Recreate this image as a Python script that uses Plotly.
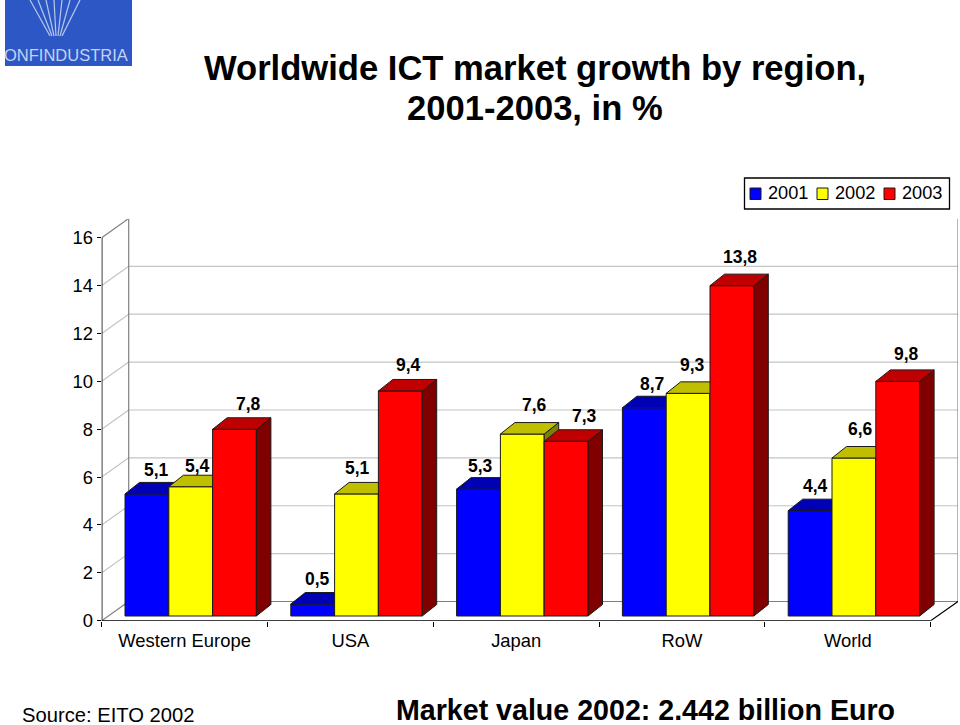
import plotly.graph_objects as go

categories = ["Western Europe", "USA", "Japan", "RoW", "World"]
years = ["2001", "2002", "2003"]
values_2001 = [5.1, 0.5, 5.3, 8.7, 4.4]
values_2002 = [5.4, 5.1, 7.6, 9.3, 6.6]
values_2003 = [7.8, 9.4, 7.3, 13.8, 9.8]
y_ticks = [0, 2, 4, 6, 8, 10, 12, 14, 16]

# ---- styling / geometry (pixels converted to axis units) ----
W, H = 960, 725
PX_L, PX_R, PX_T, PX_B = 101.7, 958.0, 219.0, 620.7
PX_CAT, PX_UNIT = 165.8, 23.94
XMAX = (PX_R - PX_L) / PX_CAT
YMAX = (PX_B - PX_T) / PX_UNIT
WALL_DX, WALL_DY = 27.0 / PX_CAT, 19.2 / PX_UNIT
BAR_DX, BAR_DY = 14.5 / PX_CAT, 11.5 / PX_UNIT
BAR_BASE = 4.7 / PX_UNIT
BAR_START, BAR_W = 23.3 / PX_CAT, 43.8 / PX_CAT
FRONT = ["#0000FF", "#FFFF00", "#FF0000"]
TOP = ["#0000B4", "#BFBF00", "#C00000"]
SIDE = ["#000080", "#808000", "#800000"]
EDGE = "#1a1a1a"
# label placement relative to bar-centre / bar-top (px)
NUDGE = [
    [(10, 24), (7, 21), (14, 25)],
    [(5, 25), (1, 26), (8, 26)],
    [(2, 23), (12, 29), (18, 25)],
    [(8, 24), (4, 28), (8, 29)],
    [(5, 25), (7, 29), (9, 27)],
]
series = [values_2001, values_2002, values_2003]

fig = go.Figure()

for s, vals in enumerate(series):
    xa = "x" if s == 0 else f"x{s+1}"
    ya = "y" if s == 0 else f"y{s+1}"
    left = [i + BAR_START + s * BAR_W for i in range(len(vals))]
    centre = [l + BAR_W / 2 for l in left]
    fig.add_trace(go.Bar(
        x=centre, y=vals, base=BAR_BASE, width=BAR_W, name=years[s],
        marker=dict(color=FRONT[s], line=dict(color=EDGE, width=1)),
        xaxis=xa, yaxis=ya, hoverinfo="skip", showlegend=False))
    tx, ty, sx, sy = [], [], [], []
    for l, v in zip(left, vals):
        r = l + BAR_W
        t = v + BAR_BASE
        tx += [l, r, r + BAR_DX, l + BAR_DX, l, None]
        ty += [t, t, t + BAR_DY, t + BAR_DY, t, None]
        sx += [r, r + BAR_DX, r + BAR_DX, r, r, None]
        sy += [BAR_BASE, BAR_BASE + BAR_DY, t + BAR_DY, t, BAR_BASE, None]
    for fx, fy, col in ((sx, sy, SIDE[s]), (tx, ty, TOP[s])):
        fig.add_trace(go.Scatter(
            x=fx, y=fy, mode="lines", fill="toself", fillcolor=col,
            line=dict(color=EDGE, width=1), showlegend=False,
            xaxis=xa, yaxis=ya, hoverinfo="skip", cliponaxis=False))

shapes = []
def seg(x0, y0, x1, y1, color, width=1.2, layer="below"):
    shapes.append(dict(type="line", xref="x", yref="y", x0=x0, y0=y0, x1=x1, y1=y1,
                       line=dict(color=color, width=width), layer=layer))

GRID, WALL = "#C4C4C4", "#808080"
for v in y_ticks:
    c = WALL if v in (0, 16) else GRID
    seg(0, v, WALL_DX, v + WALL_DY, c)
    seg(WALL_DX, v + WALL_DY, XMAX, v + WALL_DY, c)
seg(WALL_DX, WALL_DY, WALL_DX, YMAX, WALL)
seg(XMAX, WALL_DY, XMAX, YMAX, WALL)
seg(5, 0, XMAX, WALL_DY, "#000000")
seg(0, 0, 0, 16, "#000000", 1.5, "above")
seg(0, 0, 5, 0, "#000000", 1.5, "above")

# page-pixel helpers
def px(x): return x / W
def py(y): return 1 - y / H

def page_rect(x0, x1, y0, y1, fill, line_color=None, lw=0):
    shapes.append(dict(type="rect", xref="paper", yref="paper", x0=px(x0), x1=px(x1), y0=py(y0), y1=py(y1),
                       fillcolor=fill, line=dict(color=line_color, width=lw) if lw else dict(width=0),
                       layer="above"))

# logo block
page_rect(5, 132, 0, 66, "#2C57C4")
for x0, x1 in ((30, 50), (38, 52), (46, 54), (54, 56), (62, 58), (70, 60), (80, 62)):
    shapes.append(dict(type="line", xref="paper", yref="paper", x0=px(x0), x1=px(x1), y0=py(0), y1=py(36),
                       line=dict(color="#B8C8EC", width=1.2), layer="above"))

ann = []
for i, cat in enumerate(categories):
    for s, vals in enumerate(series):
        dx, dy = NUDGE[i][s]
        ann.append(dict(
            x=i + BAR_START + (s + 0.5) * BAR_W, y=vals[i] + BAR_BASE, xref="x", yref="y",
            text=f"{vals[i]:.1f}".replace(".", ","), showarrow=False, xshift=dx, yshift=dy,
            xanchor="center", yanchor="middle",
            font=dict(family="Liberation Sans", size=17.5, color="#000000", weight="bold")))

def page_text(x, y, text, size, bold=False, color="#000000", anchor="center"):
    ann.append(dict(x=px(x), y=py(y), xref="paper", yref="paper", text=text, showarrow=False,
                    xanchor=anchor, yanchor="middle", xshift=-2 if anchor == "left" else 0,
                    font=dict(family="Liberation Sans", size=size, color=color,
                              weight="bold" if bold else "normal")))

page_text(535, 68, "Worldwide ICT market growth by region,", 34.6, True)
page_text(535, 108, "2001-2003, in %", 34.6, True)
page_text(22, 715, "Source: EITO 2002", 20.2, anchor="left")
page_text(396, 710, "Market value 2002: 2.442 billion Euro", 28.6, True, anchor="left")
page_text(4, 55, "ONFINDUSTRIA", 16.5, False, "#C4D2F2", "left")

# legend box
page_rect(744.5, 949.5, 178, 209, "white", "#000000", 1.3)
for k, yr in enumerate(years):
    sx0 = 750 + k * 67
    page_rect(sx0, sx0 + 11, 188, 199.5, FRONT[k], "#1a1a1a", 1)
    page_text(sx0 + 18, 193, yr, 18.2, anchor="left")

hidden = dict(range=[0, XMAX], visible=False, domain=[PX_L / W, PX_R / W])
hidden_y = dict(range=[0, YMAX], visible=False, domain=[1 - PX_B / H, 1 - PX_T / H])

fig.update_layout(
    width=W, height=H, margin=dict(l=0, r=0, t=0, b=0, autoexpand=False),
    paper_bgcolor="white", plot_bgcolor="rgba(0,0,0,0)",
    barmode="overlay", shapes=shapes, annotations=ann, showlegend=False,
    font=dict(family="Liberation Sans", size=18.4, color="#000000"),
    xaxis=dict(range=[0, XMAX], domain=[PX_L / W, PX_R / W], showgrid=False, zeroline=False,
               showline=False, tickmode="array", automargin=False,
               tickvals=[i + 0.5 for i in range(len(categories))], ticktext=categories,
               ticks="", ticklabelstandoff=7,
               minor=dict(dtick=1, tick0=0, ticks="outside", ticklen=5, tickwidth=1.3,
                          tickcolor="#000000", showgrid=False)),
    yaxis=dict(range=[0, YMAX], domain=[1 - PX_B / H, 1 - PX_T / H], showgrid=False, zeroline=False,
               showline=False, tickmode="array", tickvals=y_ticks, ticks="outside", ticklen=4,
               automargin=False, tickwidth=1.3, tickcolor="#000000"),
    xaxis2=dict(hidden, overlaying="x", anchor="y2"),
    yaxis2=dict(hidden_y, overlaying="y", anchor="x2"),
    xaxis3=dict(hidden, overlaying="x", anchor="y3"),
    yaxis3=dict(hidden_y, overlaying="y", anchor="x3"),
)

fig.write_html("out.html", config=dict(displayModeBar=False),
               post_script="document.body.style.margin='0';document.documentElement.style.overflow='hidden';")
